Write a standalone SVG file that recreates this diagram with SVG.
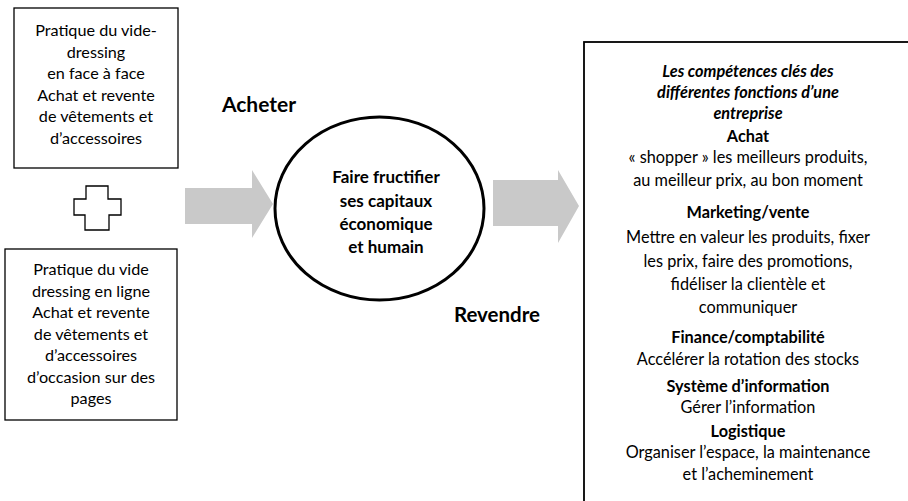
<svg xmlns="http://www.w3.org/2000/svg" width="908" height="501" viewBox="0 0 908 501">
<style>
.t{font-family:Lato,"Open Sans","Liberation Sans",sans-serif;font-size:16.2px;fill:#000;text-anchor:middle}
.r{font-size:16.3px}
.b{font-weight:bold}
.i{font-style:italic}
.box{fill:#fff;stroke:#000;stroke-width:1.3}
.arr{fill:#c9c9c9;stroke:none}
</style>
<rect width="908" height="501" fill="#fff"/>
<g id="connectors">
<path id="arrow-left" class="arr" d="M185,188 H252 V170 L273,204 L252,238 V224 H185 Z"/>
<path id="arrow-right" class="arr" d="M493,180 H558 V170 L579,206 L558,243 V226 H493 Z"/>
</g>
<g id="box-face">
<rect class="box" x="14" y="8" width="164" height="160"/>
<text class="t" x="96" y="36">Pratique du vide-</text>
<text class="t" x="96" y="57.5">dressing</text>
<text class="t" x="96" y="79">en face à face</text>
<text class="t" x="96" y="100.5">Achat et revente</text>
<text class="t" x="96" y="122">de vêtements et</text>
<text class="t" x="96" y="143.5">d’accessoires</text>
</g>
<g id="plus">
<path d="M86,186 H108 V199 H121 V215 H109 V230 H85 V215 H74 V199 H86 Z" fill="#fff" stroke="#000" stroke-width="1.3"/>
</g>
<g id="box-ligne">
<rect class="box" x="5" y="249" width="172" height="171"/>
<text class="t" x="91" y="275">Pratique du vide</text>
<text class="t" x="91" y="296.5">dressing en ligne</text>
<text class="t" x="91" y="318">Achat et revente</text>
<text class="t" x="91" y="339.5">de vêtements et</text>
<text class="t" x="91" y="361">d’accessoires</text>
<text class="t" x="91" y="382.5">d’occasion sur des</text>
<text class="t" x="91" y="404">pages</text>
</g>
<g id="label-acheter">
<text class="t b" x="259" y="112" style="font-size:21px">Acheter</text>
</g>
<g id="label-revendre">
<text class="t b" x="497" y="322" style="font-size:20.5px">Revendre</text>
</g>
<g id="circle">
<ellipse cx="379.5" cy="208.5" rx="104.5" ry="91.5" fill="#fff" stroke="#000" stroke-width="3"/>
<text class="t b" x="386" y="183" style="font-size:17px">Faire fructifier</text>
<text class="t b" x="386" y="207" style="font-size:17px">ses capitaux</text>
<text class="t b" x="386" y="230" style="font-size:17px">économique</text>
<text class="t b" x="386" y="253" style="font-size:17px">et humain</text>
</g>
<g id="box-competences">
<rect class="box" x="584" y="42" width="340" height="480" style="stroke-width:1.8"/>
<text class="t r b i" x="748" y="76.5">Les compétences clés des</text>
<text class="t r b i" x="748" y="98">différentes fonctions d’une</text>
<text class="t r b i" x="748" y="118.5">entreprise</text>
<text class="t r b" x="748" y="142">Achat</text>
<text class="t r" x="748" y="163">« shopper » les meilleurs produits,</text>
<text class="t r" x="748" y="186">au meilleur prix, au bon moment</text>
<text class="t r b" x="748" y="218">Marketing/vente</text>
<text class="t r" x="748" y="243">Mettre en valeur les produits, fixer</text>
<text class="t r" x="748" y="267">les prix, faire des promotions,</text>
<text class="t r" x="748" y="290">fidéliser la clientèle et</text>
<text class="t r" x="748" y="313">communiquer</text>
<text class="t r b" x="748" y="343">Finance/comptabilité</text>
<text class="t r" x="748" y="365">Accélérer la rotation des stocks</text>
<text class="t r b" x="748" y="392">Système d’information</text>
<text class="t r" x="748" y="413">Gérer l’information</text>
<text class="t r b" x="748" y="437">Logistique</text>
<text class="t r" x="748" y="458">Organiser l’espace, la maintenance</text>
<text class="t r" x="748" y="480">et l’acheminement</text>
</g>
</svg>
